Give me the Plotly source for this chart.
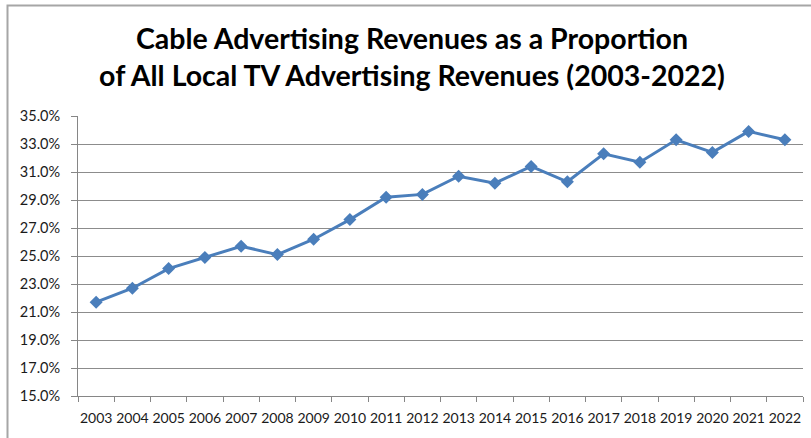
import plotly.graph_objects as go

years = [str(y) for y in range(2003, 2023)]
share_pct = [21.7, 22.7, 24.1, 24.9, 25.7, 25.1, 26.2, 27.6, 29.2, 29.4,
             30.7, 30.2, 31.4, 30.3, 32.3, 31.7, 33.3, 32.4, 33.9, 33.3]
y_ticks = [15, 17, 19, 21, 23, 25, 27, 29, 31, 33, 35]
y_tick_labels = [f"{v:.1f}%" for v in y_ticks]

title_text = ("Cable Advertising Revenues as a Proportion<br>"
              "of All Local TV Advertising Revenues (2003-2022)")

fig = go.Figure()
fig.add_trace(go.Scatter(
    x=years, y=share_pct, mode="lines+markers",
    line=dict(color="#4a7ebb", width=3),
    marker=dict(symbol="diamond", size=10, color="#4a7ebb"),
    showlegend=False,
))

fig.update_layout(
    width=811, height=438,
    margin=dict(l=78, r=8, t=116, b=42, autoexpand=False),
    paper_bgcolor="white", plot_bgcolor="white",
    font=dict(family="Lato, Open Sans, sans-serif", color="#1a1a1a"),
    title=dict(text=title_text, x=0.508, xanchor="center",
               y=1 - 49 / 438, yanchor="middle", yref="container",
               font=dict(family="Lato, Open Sans, sans-serif", size=28.5, color="black",
                         weight="bold")),
)
fig.update_xaxes(
    type="category", range=[-0.5, 19.5], tickson="boundaries",
    ticks="outside", ticklen=5, tickcolor="#868686", tickangle=0,
    showline=True, linecolor="#868686", linewidth=1, automargin=False,
    showgrid=False, tickfont=dict(size=14, color="#1a1a1a"),
    ticklabelstandoff=9,
)
fig.update_yaxes(
    range=[15, 35], tickvals=y_ticks, ticktext=y_tick_labels,
    ticks="outside", ticklen=6, tickcolor="#868686",
    showline=True, linecolor="#868686", linewidth=1, automargin=False,
    showgrid=True, gridcolor="#8c8c8c", gridwidth=1,
    zeroline=False, tickfont=dict(size=14.5, color="#1a1a1a"),
    ticklabelstandoff=8,
)
fig.add_shape(type="rect", xref="paper", yref="paper",
              x0=(7.5 - 78) / 725, x1=(820 - 78) / 725,
              y0=(396 - 450) / 280, y1=(396 - 5.5) / 280,
              line=dict(color="#a6a6a6", width=2), layer="below")

fig.write_html("out.html", config={"displayModeBar": False},
               post_script="document.body.style.margin='0';")
